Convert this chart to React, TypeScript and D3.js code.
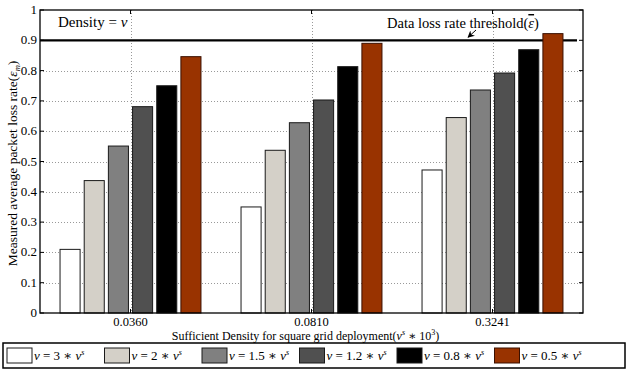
import * as d3 from 'd3';
import React, { useEffect, useRef } from 'react';

const categories = ['0.0360', '0.0810', '0.3241'];
const seriesNames = ['3', '2', '1.5', '1.2', '0.8', '0.5'];
const series3 = [0.21, 0.35, 0.472];
const series2 = [0.437, 0.537, 0.645];
const series15 = [0.551, 0.628, 0.736];
const series12 = [0.681, 0.703, 0.792];
const series08 = [0.75, 0.813, 0.869];
const series05 = [0.846, 0.89, 0.922];
const yTicks = [0, 0.1, 0.2, 0.3, 0.4, 0.5, 0.6, 0.7, 0.8, 0.9, 1];
const threshold = 0.9;

const colors = ['#ffffff', '#d4d0c8', '#808080', '#505050', '#000000', '#993300'];
const width = 629;
const height = 371;
const margin = { top: 10, right: 46, bottom: 58, left: 40 };
const font = 'Liberation Serif, DejaVu Serif, serif';

const App: React.FC = () => {
  const ref = useRef<SVGSVGElement>(null);
  useEffect(() => {
    const svg = d3.select(ref.current);
    svg.selectAll('*').remove();
    const allSeries = [series3, series2, series15, series12, series08, series05];
    const x0 = d3
      .scaleBand()
      .domain(categories)
      .range([margin.left, width - margin.right])
      .paddingInner(0)
      .paddingOuter(0);
    const x1 = d3
      .scaleBand()
      .domain(seriesNames)
      .range([x0.bandwidth() * 0.1, x0.bandwidth() * 0.9])
      .paddingInner(0.17)
      .paddingOuter(0.08);
    const y = d3.scaleLinear().domain([0, 1]).range([height - margin.bottom, margin.top]);
    const left = margin.left;
    const right = width - margin.right;
    const top = margin.top;
    const bottom = height - margin.bottom;

    // grid
    const grid = svg.append('g').attr('stroke', '#999').attr('stroke-dasharray', '1,2').attr('stroke-width', 1);
    grid
      .selectAll('line.h')
      .data(yTicks.filter((t) => t > 0 && t < 0.9))
      .enter()
      .append('line')
      .attr('x1', left)
      .attr('x2', right)
      .attr('y1', (d) => Math.round(y(d)) + 0.5)
      .attr('y2', (d) => Math.round(y(d)) + 0.5);
    grid
      .selectAll('line.v')
      .data(categories)
      .enter()
      .append('line')
      .attr('x1', (d) => Math.round((x0(d) || 0) + x0.bandwidth() / 2) + 0.5)
      .attr('x2', (d) => Math.round((x0(d) || 0) + x0.bandwidth() / 2) + 0.5)
      .attr('y1', top)
      .attr('y2', bottom);

    // threshold line
    svg
      .append('line')
      .attr('x1', left)
      .attr('x2', right - 6)
      .attr('y1', y(threshold))
      .attr('y2', y(threshold))
      .attr('stroke', '#000')
      .attr('stroke-width', 2.2);

    // bars
    allSeries.forEach((vals, si) => {
      svg
        .append('g')
        .selectAll('rect')
        .data(vals)
        .enter()
        .append('rect')
        .attr('x', (d, i) => (x0(categories[i]) || 0) + (x1(seriesNames[si]) || 0))
        .attr('y', (d) => y(d))
        .attr('width', x1.bandwidth())
        .attr('height', (d) => y(0) - y(d))
        .attr('fill', colors[si])
        .attr('stroke', si === 5 ? '#3a1000' : '#1a1a1a')
        .attr('stroke-width', 1);
    });

    // frame
    svg
      .append('rect')
      .attr('x', left)
      .attr('y', top)
      .attr('width', right - left)
      .attr('height', bottom - top)
      .attr('fill', 'none')
      .attr('stroke', '#000')
      .attr('stroke-width', 1.3);

    // ticks
    const ticks = svg.append('g').attr('stroke', '#000').attr('stroke-width', 1);
    yTicks.forEach((t) => {
      ticks.append('line').attr('x1', left).attr('x2', left + 4).attr('y1', y(t)).attr('y2', y(t));
      ticks.append('line').attr('x1', right).attr('x2', right - 4).attr('y1', y(t)).attr('y2', y(t));
    });
    categories.forEach((c) => {
      const cx = (x0(c) || 0) + x0.bandwidth() / 2;
      ticks.append('line').attr('x1', cx).attr('x2', cx).attr('y1', bottom).attr('y2', bottom - 4);
      ticks.append('line').attr('x1', cx).attr('x2', cx).attr('y1', top).attr('y2', top + 4);
    });

    // y tick labels
    svg
      .append('g')
      .selectAll('text')
      .data(yTicks)
      .enter()
      .append('text')
      .attr('x', left - 3)
      .attr('y', (d) => y(d) + 4)
      .attr('text-anchor', 'end')
      .attr('font-family', font)
      .attr('font-size', 13)
      .text((d) => (d === 0 ? '0' : d === 1 ? '1' : d3.format('.1f')(d)));

    // x tick labels
    svg
      .append('g')
      .selectAll('text')
      .data(categories)
      .enter()
      .append('text')
      .attr('x', (d) => (x0(d) || 0) + x0.bandwidth() / 2)
      .attr('y', bottom + 13)
      .attr('text-anchor', 'middle')
      .attr('font-family', font)
      .attr('font-size', 12.5)
      .text((d) => d);

    // x label
    const xl = svg
      .append('text')
      .attr('x', (left + right) / 2 - 6)
      .attr('y', bottom + 27)
      .attr('text-anchor', 'middle')
      .attr('font-family', font)
      .attr('font-size', 12);
    xl.append('tspan').text('Sufficient Density for square grid deployment(');
    xl.append('tspan').attr('font-style', 'italic').text('ν');
    xl.append('tspan').attr('font-style', 'italic').attr('font-size', 8).attr('dy', -5).text('s');
    xl.append('tspan').attr('dy', 5).text(' ∗ 10');
    xl.append('tspan').attr('font-size', 8).attr('dy', -5).text('3');
    xl.append('tspan').attr('dy', 5).text(')');

    // y label
    const yl = svg
      .append('text')
      .attr('transform', `translate(17,${(top + bottom) / 2 + 2}) rotate(-90)`)
      .attr('text-anchor', 'middle')
      .attr('font-family', font)
      .attr('font-size', 13.5);
    yl.append('tspan').text('Measured average packet loss rate(');
    yl.append('tspan').attr('font-style', 'italic').text('ε');
    yl.append('tspan').attr('font-style', 'italic').attr('font-size', 8.5).attr('dy', 3).text('m');
    yl.append('tspan').attr('dy', -3).text(')');

    // annotations
    const a1 = svg
      .append('text')
      .attr('x', 58)
      .attr('y', 27)
      .attr('font-family', font)
      .attr('font-size', 15);
    a1.append('tspan').text('Density = ');
    a1.append('tspan').attr('font-style', 'italic').text('ν');

    const a2 = svg
      .append('text')
      .attr('x', 387)
      .attr('y', 28)
      .attr('font-family', font)
      .attr('font-size', 14.5);
    a2.append('tspan').text('Data loss rate threshold(');
    a2.append('tspan').attr('font-style', 'italic').style('text-decoration', 'overline').text('ε');
    a2.append('tspan').text(')');

    svg
      .append('defs')
      .append('marker')
      .attr('id', 'arrowhead')
      .attr('viewBox', '0 0 10 10')
      .attr('refX', 9)
      .attr('refY', 5)
      .attr('markerWidth', 7)
      .attr('markerHeight', 7)
      .attr('orient', 'auto')
      .append('path')
      .attr('d', 'M0,0 L10,5 L0,10 L3,5 Z')
      .attr('fill', '#000');
    svg
      .append('line')
      .attr('x1', 476)
      .attr('y1', 30)
      .attr('x2', 468)
      .attr('y2', y(threshold) - 3)
      .attr('stroke', '#000')
      .attr('stroke-width', 1)
      .attr('marker-end', 'url(#arrowhead)');

    // legend
    const lg = svg.append('g');
    lg.append('rect')
      .attr('x', 3)
      .attr('y', 343)
      .attr('width', 622)
      .attr('height', 25)
      .attr('fill', '#fff')
      .attr('stroke', '#000')
      .attr('stroke-width', 1.5);
    seriesNames.forEach((s, i) => {
      const lx = 7 + i * 97.5;
      lg.append('rect')
        .attr('x', lx)
        .attr('y', 348)
        .attr('width', 25)
        .attr('height', 15)
        .attr('fill', colors[i])
        .attr('stroke', i === 5 ? '#3a1000' : '#1a1a1a')
        .attr('stroke-width', 1);
      const t = lg
        .append('text')
        .attr('x', lx + 27)
        .attr('y', 360)
        .attr('font-family', font)
        .attr('font-size', 13);
      t.append('tspan').attr('font-style', 'italic').text('ν');
      t.append('tspan').text(` = ${s} ∗ `);
      t.append('tspan').attr('font-style', 'italic').text('ν');
      t.append('tspan').attr('font-style', 'italic').attr('font-size', 8).attr('dy', -5).text('s');
    });
  }, []);
  return (
    <svg
      ref={ref}
      width={width}
      height={height}
      style={{ position: 'absolute', left: 0, top: 0, background: '#fff' }}
    ></svg>
  );
};

export default App;
